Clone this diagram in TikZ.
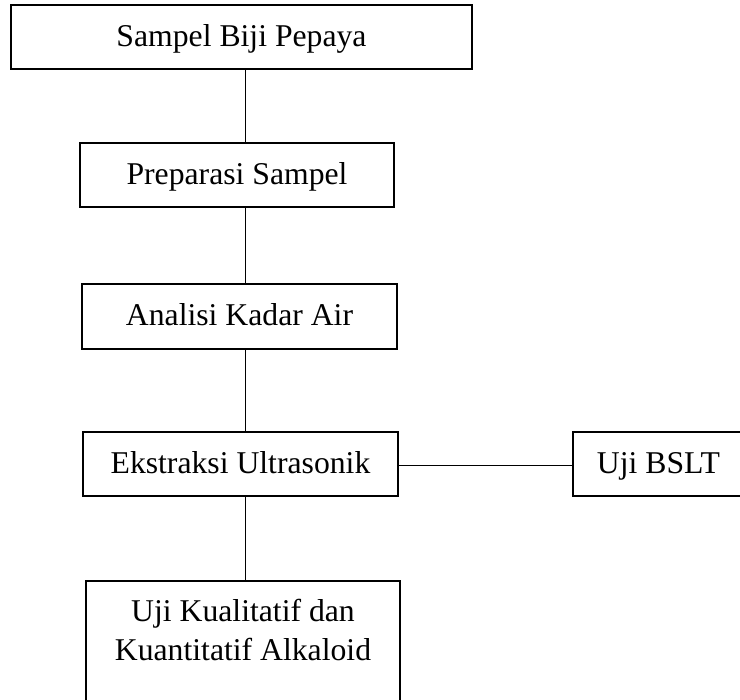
\documentclass[tikz,border=0pt]{standalone}
\usepackage{fontspec}
\setmainfont{Liberation Serif}
\begin{document}
\begin{tikzpicture}[x=1pt,y=-1pt,
  box/.style={draw,line width=1.6pt,inner sep=0pt,text height=19pt,text depth=0pt,
    font=\fontsize{31.7}{39}\selectfont},
  conn/.style={line width=1pt}]
\useasboundingbox (0,0) rectangle (740,700);
\clip (0,0) rectangle (740,700);
\coordinate (cx) at (245,0);
\node[box,minimum width=461pt,minimum height=64pt] (b1) at (241.5,37) {Sampel Biji Pepaya};
\node[box,minimum width=314pt,minimum height=64pt] (b2) at (237,175) {Preparasi Sampel};
\node[box,minimum width=315pt,minimum height=65pt] (b3) at (239.5,316.5) {Analisi Kadar Air};
\node[box,minimum width=315pt,minimum height=64pt] (b4) at (240.5,464) {Ekstraksi Ultrasonik};
\node[box,minimum width=171pt,minimum height=64pt] (b5) at (658.5,464) {Uji BSLT};
\node[draw,line width=1.6pt,inner sep=0pt,minimum width=314pt,minimum height=160pt,anchor=north] (b6) at (243,580) {};
\node[inner sep=0pt,anchor=north,align=center,font=\fontsize{31.7}{39}\selectfont] (t6) at (243,598.5)
  {Uji Kualitatif dan\\Kuantitatif Alkaloid};
\draw[conn] (b1.south -| cx) -- (b2.north -| cx);
\draw[conn] (b2.south -| cx) -- (b3.north -| cx);
\draw[conn] (b3.south -| cx) -- (b4.north -| cx);
\draw[conn] (b4.south -| cx) -- (b6.north -| cx);
\draw[conn] ([yshift=-2pt]b4.east) -- ([yshift=-2pt]b5.west);
\end{tikzpicture}
\end{document}
